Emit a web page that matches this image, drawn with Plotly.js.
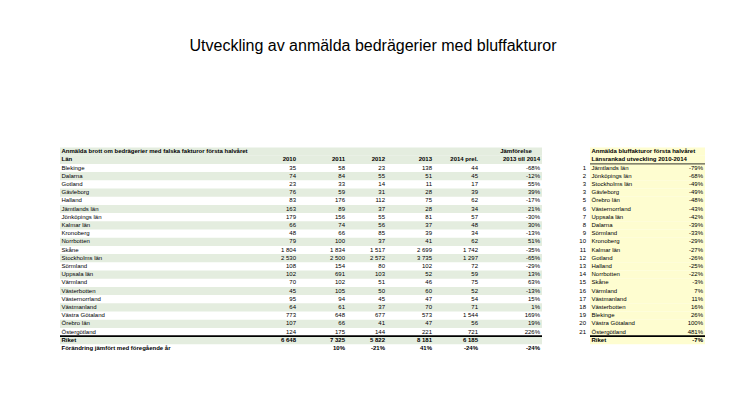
<!DOCTYPE html>
<html><head><meta charset="utf-8">
<script src="https://cdn.plot.ly/plotly-3.0.1.min.js"></script>
<style>html,body{margin:0;padding:0;background:#fff}#chart{width:746px;height:419px}</style>
</head><body><div id="chart"></div>
<script>
// ---------- data ----------
const chartTitle = 'Utveckling av anmälda bedrägerier med bluffakturor';
const tableTitle = 'Anmälda brott om bedrägerier med falska fakturor första halvåret';
const regionHead = 'Län';
const compareHead1 = 'Jämförelse';
const compareHead2 = '2013 till 2014';
const years = ['2010', '2011', '2012', '2013', '2014 prel.'];
const regions = ['Blekinge','Dalarna','Gotland','Gävleborg','Halland','Jämtlands län','Jönköpings län','Kalmar län','Kronoberg','Norrbotten','Skåne','Stockholms län','Sörmland','Uppsala län','Värmland','Västerbotten','Västernorrland','Västmanland','Västra Götaland','Örebro län','Östergötland'];
const v2010 = [35,74,23,76,83,163,179,66,48,79,1804,2530,108,102,70,45,95,64,773,107,124];
const v2011 = [58,84,33,59,176,89,156,74,66,100,1834,2500,154,691,102,105,94,61,648,66,175];
const v2012 = [23,55,14,31,112,37,55,56,85,37,1517,2572,80,103,51,50,45,37,677,41,144];
const v2013 = [138,51,11,28,75,28,81,37,39,41,2699,3735,102,52,46,60,47,70,573,47,221];
const v2014 = [44,45,17,39,62,34,57,48,34,62,1742,1297,72,59,75,52,54,71,1544,56,721];
const change1314 = [-68,-12,55,39,-17,21,-30,30,-13,51,-35,-65,-29,13,63,-13,15,1,169,19,226];
const totalLabel = 'Riket';
const totals = [6648, 7325, 5822, 8181, 6185];
const changeLabel = 'Förändring jämfört med föregående år';
const changeVsPrev = [10, -21, 41, -24]; // 2011..2014
const changeTotal1314 = -24;

const rankHead1 = 'Anmälda bluffakturor första halvåret';
const rankHead2 = 'Länsrankad utveckling 2010-2014';
const rankNo = [1,2,3,3,5,6,7,8,9,10,11,12,13,14,15,16,17,18,19,20,21];
const rankRegion = ['Jämtlands län','Jönköpings läns','Stockholms län','Gävleborg','Örebro län','Västernorrland','Uppsala län','Dalarna','Sörmland','Kronoberg','Kalmar län','Gotland','Halland','Norrbotten','Skåne','Värmland','Västmanland','Västerbotten','Blekinge','Västra Götaland','Östergötland'];
const rankChange = [-79,-68,-49,-49,-48,-43,-42,-39,-33,-29,-27,-26,-25,-22,-3,7,11,16,26,100,481];
const rankTotal = -7;

// ---------- layout constants ----------
const W = 746, H = 419;
const FONT = 'Liberation Sans, Arial, sans-serif';
const FS = 6;
const ROW0 = 168, ROWH = 8.2;
const HEAD1 = -2, HEAD2 = -1, TOT = regions.length, CHG = regions.length + 1;
const L_LEFT = 60, L_RIGHT = 542, L_TEXT = 61.5;
const colRight = [296, 345, 385, 432, 478];
const cmpRight = 540, cmpCenter = 516;
const R_NUM = 586, R_LEFT = 590, R_TEXT = 591.5, R_RIGHT = 705, R_PCT = 703;
const GREEN = '#e4eddf', YELLOW = '#fefdd0';

rankRegion[1] = 'Jönköpings län';

const fmt = n => String(n).replace(/\B(?=(\d{3})+(?!\d))/g, '\u00a0');
const pct = n => n + '%';
const b = s => '<b>' + s + '</b>';
const idx = regions.map((_, i) => i);
const fill = (n, v) => Array(n).fill(v);

function txt(ys, texts, x, pos) {
  return {type: 'scatter', mode: 'text', x: fill(ys.length, x), y: ys, text: texts,
    textposition: pos, textfont: {family: FONT, size: FS, color: '#000'},
    hoverinfo: 'skip', showlegend: false, cliponaxis: false};
}

const traces = [];
// row bands
const greenRows = [HEAD1, HEAD2].concat(idx.filter(i => i % 2 === 1), [TOT]);
traces.push({type: 'bar', orientation: 'h', y: greenRows, x: fill(greenRows.length, L_RIGHT - L_LEFT),
  base: fill(greenRows.length, L_LEFT), width: fill(greenRows.length, 1),
  marker: {color: GREEN, line: {width: 0}}, hoverinfo: 'skip', showlegend: false});
const yellowRows = [HEAD1, HEAD2].concat(idx, [TOT]);
traces.push({type: 'bar', orientation: 'h', y: yellowRows, x: fill(yellowRows.length, R_RIGHT - R_LEFT),
  base: fill(yellowRows.length, R_LEFT), width: fill(yellowRows.length, 1),
  marker: {color: YELLOW, line: {width: 0}}, hoverinfo: 'skip', showlegend: false});

// left table: labels
traces.push(txt([HEAD1, HEAD2].concat(idx, [TOT, CHG]),
  [b(tableTitle), b(regionHead)].concat(regions, [b(totalLabel), b(changeLabel)]), L_TEXT, 'middle right'));
// year columns
const series = [v2010, v2011, v2012, v2013, v2014];
series.forEach((vals, k) => {
  const ys = [HEAD2].concat(idx, [TOT]);
  const ts = [b(years[k])].concat(vals.map(fmt), [b(fmt(totals[k]))]);
  if (k > 0) { ys.push(CHG); ts.push(b(pct(changeVsPrev[k - 1]))); }
  traces.push(txt(ys, ts, colRight[k], 'middle left'));
});
// comparison column
traces.push(txt([HEAD1], [b(compareHead1)], cmpCenter, 'middle center'));
traces.push(txt([HEAD2].concat(idx, [CHG]),
  [b(compareHead2)].concat(change1314.map(pct), [b(pct(changeTotal1314))]), cmpRight, 'middle left'));

// right table
traces.push(txt(idx, rankNo.map(String), R_NUM, 'middle left'));
traces.push(txt([HEAD1, HEAD2].concat(idx, [TOT]),
  [b(rankHead1), b(rankHead2)].concat(rankRegion, [b(totalLabel)]), R_TEXT, 'middle right'));
traces.push(txt(idx.concat([TOT]), rankChange.map(pct).concat([b(pct(rankTotal))]), R_PCT, 'middle left'));

const shapes = [
  {type: 'line', xref: 'x', yref: 'y', x0: L_LEFT, x1: L_RIGHT, y0: TOT - 0.5, y1: TOT - 0.5, line: {color: '#000', width: 1.6}},
  {type: 'line', xref: 'x', yref: 'y', x0: R_LEFT, x1: R_RIGHT, y0: TOT - 0.5, y1: TOT - 0.5, line: {color: '#000', width: 1.6}},
  {type: 'line', xref: 'x', yref: 'y', x0: R_LEFT, x1: R_RIGHT, y0: HEAD2 + 0.5, y1: HEAD2 + 0.5, line: {color: '#000', width: 0.8}}
];

const layout = {
  width: W, height: H, margin: {l: 0, r: 0, t: 0, b: 0},
  paper_bgcolor: '#fff', plot_bgcolor: '#fff',
  title: {text: chartTitle, x: 0.5, xanchor: 'center', y: 1 - 45 / H, yanchor: 'middle',
    font: {family: FONT, size: 16, color: '#000'}},
  xaxis: {range: [0, W], visible: false, fixedrange: true},
  yaxis: {range: [(H - ROW0) / ROWH, -ROW0 / ROWH], visible: false, fixedrange: true},
  barmode: 'overlay', showlegend: false, hovermode: false, shapes: shapes
};
Plotly.newPlot('chart', traces, layout, {displayModeBar: false, staticPlot: true});
</script></body></html>
